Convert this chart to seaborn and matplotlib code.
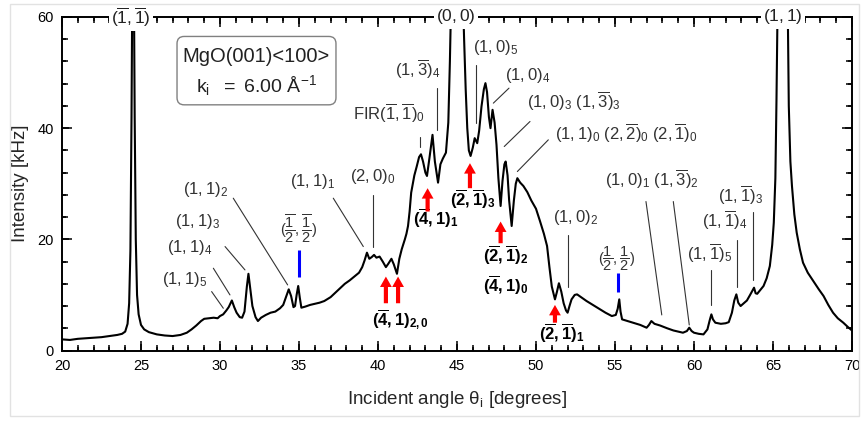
import matplotlib
matplotlib.use("Agg")
import numpy as np
import pandas as pd
import matplotlib.pyplot as plt
import seaborn as sns
from matplotlib.patches import FancyBboxPatch, Rectangle
from matplotlib.ticker import MultipleLocator

# ---------------- data ----------------
theta = [20.0, 20.5, 21.0, 21.5, 22.0, 22.5, 23.0, 23.5, 23.8, 24.0, 24.15, 24.25, 24.33, 24.4, 24.45,
         24.55, 24.6, 24.67, 24.75, 24.85, 25.0, 25.2, 25.5, 26.0, 26.5, 27.0, 27.5, 27.9, 28.2, 28.5,
         28.8, 29.0, 29.3, 29.6, 29.85, 30.0, 30.2, 30.4, 30.55, 30.75, 30.9, 31.05, 31.25, 31.4, 31.55,
         31.7, 31.8, 31.9, 32.05, 32.25, 32.4, 32.6, 32.9, 33.2, 33.5, 33.8, 34.0, 34.2, 34.35, 34.5,
         34.65, 34.75, 34.85, 34.95, 35.05, 35.15, 35.4, 35.7, 36.0, 36.3, 36.6, 37.0, 37.3, 37.6, 37.9,
         38.2, 38.5, 38.8, 39.0, 39.15, 39.3, 39.45, 39.6, 39.75, 39.9, 40.1, 40.3, 40.5, 40.65, 40.85,
         41.0, 41.2, 41.35, 41.5, 41.7, 41.8, 41.9, 42.0, 42.1, 42.3, 42.45, 42.6, 42.72, 42.85, 43.0,
         43.1, 43.25, 43.45, 43.6, 43.8, 43.95, 44.1, 44.3, 44.45, 44.55, 44.65, 45.35, 45.45, 45.55,
         45.65, 45.75, 45.86, 46.0, 46.12, 46.28, 46.4, 46.55, 46.7, 46.8, 46.9, 47.02, 47.12, 47.25,
         47.38, 47.5, 47.62, 47.76, 47.88, 48.0, 48.08, 48.2, 48.3, 48.46, 48.6, 48.72, 48.82, 49.0,
         49.2, 49.45, 49.7, 50.0, 50.25, 50.5, 50.7, 50.85, 51.0, 51.2, 51.32, 51.45, 51.6, 51.75,
         51.9, 52.0, 52.12, 52.25, 52.45, 52.6, 52.9, 53.2, 53.6, 54.05, 54.4, 54.8, 55.05, 55.17,
         55.27, 55.35, 55.45, 55.8, 56.15, 56.6, 57.0, 57.15, 57.3, 57.5, 57.85, 58.3, 58.7, 59.0,
         59.3, 59.55, 59.7, 59.85, 60.0, 60.3, 60.6, 60.85, 61.0, 61.1, 61.2, 61.35, 61.7, 62.0, 62.2,
         62.4, 62.55, 62.68, 62.8, 62.95, 63.15, 63.35, 63.55, 63.7, 63.8, 63.9, 64.0, 64.2, 64.4,
         64.6, 64.8, 64.95, 65.05, 65.15, 65.22, 65.28, 65.35, 65.85, 65.94, 66.0, 66.1, 66.2, 66.35,
         66.5, 66.7, 66.9, 67.2, 67.55, 67.9, 68.2, 68.5, 68.8, 69.1, 69.45, 69.75, 70.0]
intensity = [2.0, 1.9, 2.1, 2.2, 2.3, 2.4, 2.6, 2.8, 3.0, 3.4, 4.8, 8.5, 18.0, 42.0, 66.0,
             66.0, 42.0, 20.0, 10.0, 6.5, 4.6, 3.8, 3.3, 2.9, 2.7, 2.6, 2.8, 3.2, 3.8, 4.5,
             5.3, 5.7, 5.8, 5.9, 5.8, 6.2, 6.5, 7.2, 7.8, 9.0, 7.8, 6.8, 6.0, 5.9, 7.0,
             11.5, 13.8, 11.5, 8.0, 6.0, 5.3, 5.9, 6.4, 6.8, 7.0, 7.6, 8.2, 9.8, 11.0, 9.8,
             7.8, 8.0, 10.0, 11.6, 9.5, 7.7, 7.9, 8.2, 8.4, 8.6, 8.9, 9.6, 10.4, 11.2, 12.0,
             12.6, 13.3, 14.0, 15.0, 16.2, 17.6, 16.5, 16.8, 17.2, 16.7, 16.9, 16.0, 15.0, 15.6, 16.5,
             15.5, 13.8, 16.5, 18.2, 20.0, 21.0, 22.4, 25.0, 28.4, 31.5, 33.1, 34.8, 35.3, 34.0, 32.0,
             31.4, 34.5, 38.8, 34.0, 30.2, 33.5, 34.5, 35.6, 41.0, 52.0, 66.0, 66.0, 56.0, 47.0,
             40.0, 36.0, 35.0, 36.5, 38.2, 37.3, 39.5, 43.9, 47.0, 48.1, 46.5, 42.0, 40.0, 43.3,
             41.0, 37.0, 31.0, 26.0, 30.5, 33.5, 34.0, 31.5, 27.0, 22.4, 27.0, 30.0, 31.0, 30.2,
             29.6, 28.5, 27.0, 25.5, 23.3, 21.0, 18.8, 15.0, 11.5, 9.2, 10.5, 12.1, 10.6, 8.5,
             7.2, 6.8, 8.0, 9.2, 10.0, 10.1, 9.5, 8.9, 8.2, 7.4, 6.8, 6.2, 6.4, 7.5,
             9.2, 7.0, 5.6, 5.3, 5.0, 4.6, 4.1, 4.6, 5.3, 4.8, 4.5, 4.0, 3.6, 3.4,
             3.2, 3.5, 4.1, 3.5, 3.2, 3.0, 2.9, 3.8, 5.5, 6.5, 5.6, 5.0, 4.8, 4.9, 5.1,
             6.8, 9.0, 10.1, 8.6, 8.0, 8.5, 9.0, 10.0, 10.8, 11.3, 10.3, 10.2, 10.9, 11.6,
             13.0, 15.2, 19.0, 23.0, 31.0, 45.0, 60.0, 75.0, 75.0, 60.0, 44.0, 34.0, 29.6, 24.5,
             21.2, 18.2, 15.8, 14.0, 12.5, 11.0, 9.8, 8.2, 6.8, 5.8, 5.0, 4.2, 3.6]

# top-axis specular / diffraction peak labels
top_labels = [r"$\mathregular{(\overline{1},\overline{1})}$", r"$\mathregular{(0,0)}$", r"$\mathregular{(1,1)}$"]
top_label_theta = [24.37, 44.94, 65.63]

# grey labels: text, left theta, baseline intensity
grey_labels = [
    (r"$\mathregular{(1,1)_5}$", 26.33, 11.9),
    (r"$\mathregular{(1,1)_4}$", 26.65, 17.7),
    (r"$\mathregular{(1,1)_3}$", 27.15, 22.4),
    (r"$\mathregular{(1,1)_2}$", 27.66, 28.1),
    (r"$\mathregular{(1,1)_1}$", 34.43, 29.6),
    (r"$\mathregular{(2,0)_0}$", 38.23, 30.5),
    (r"$\mathregular{FIR(\overline{1},\overline{1})_0}$", 38.42, 41.5),
    (r"$\mathregular{(1,\overline{3})_4}$", 41.08, 49.4),
    (r"$\mathregular{(1,0)_5}$", 46.01, 53.7),
    (r"$\mathregular{(1,0)_4}$", 48.04, 48.7),
    (r"$\mathregular{(1,0)_3\ (1,\overline{3})_3}$", 49.43, 43.6),
    (r"$\mathregular{(1,1)_0\ (2,\overline{2})_0\ (2,\overline{1})_0}$", 51.2, 37.8),
    (r"$\mathregular{(1,0)_2}$", 51.08, 23.1),
    (r"$\mathregular{(1,0)_1\ (1,\overline{3})_2}$", 54.37, 29.6),
    (r"$\mathregular{(1,\overline{1})_5}$", 59.56, 16.2),
    (r"$\mathregular{(1,\overline{1})_4}$", 60.51, 22.2),
    (r"$\mathregular{(1,\overline{1})_3}$", 61.52, 26.8),
]

# leader lines: (theta0, I0, theta1, I1)
leaders = [
    (29.47, 10.6, 30.21, 7.6),
    (29.58, 14.8, 30.63, 10.0),
    (30.32, 18.7, 31.58, 14.5),
    (30.84, 27.4, 34.28, 11.8),
    (37.17, 27.4, 39.07, 18.7),
    (39.66, 28.0, 39.66, 18.7),
    (42.66, 38.5, 42.66, 36.7),
    (43.75, 47.2, 43.75, 39.7),
    (46.20, 51.4, 46.20, 40.9),
    (48.29, 47.2, 47.30, 44.5),
    (49.62, 41.2, 47.99, 36.7),
    (50.78, 37.9, 48.82, 32.2),
    (52.00, 20.8, 52.00, 11.5),
    (56.96, 26.8, 57.96, 6.4),
    (58.69, 26.8, 59.70, 4.6),
    (61.06, 14.5, 61.06, 8.2),
    (62.74, 19.9, 62.74, 11.5),
    (63.71, 25.0, 63.71, 12.7),
]

# bold labels for the red-arrow resonances
bold_labels = [
    (r"$\mathregular{(\overline{4},1)_{2,0}}$", 39.62, 4.5),
    (r"$\mathregular{(\overline{4},1)_1}$", 42.22, 22.5),
    (r"$\mathregular{(\overline{2},\overline{1})_3}$", 44.56, 26.0),
    (r"$\mathregular{(\overline{2},\overline{1})_2}$", 46.65, 15.9),
    (r"$\mathregular{(\overline{4},1)_0}$", 46.65, 10.6),
    (r"$\mathregular{(\overline{2},\overline{1})_1}$", 50.19, 1.8),
]
# red arrows: theta, head intensity, tail intensity
arrow_theta = [40.5, 41.27, 43.14, 45.82, 47.76, 51.2]
arrow_head = [13.3, 13.3, 29.2, 33.7, 23.2, 8.2]
arrow_tail = [8.5, 8.5, 25.0, 29.2, 19.3, 5.0]

# blue half-order markers
half_labels = [r"$\mathregular{(\dfrac{\overline{1}}{2},\dfrac{\overline{1}}{2})}$",
               r"$\mathregular{(\dfrac{1}{2},\dfrac{1}{2})}$"]
half_theta = [34.97, 55.18]
half_label_theta = [35.0, 55.13]
half_label_I = [21.9, 16.5]
half_bar_lo = [13.3, 10.6]
half_bar_hi = [18.1, 13.9]

# ---------------- style ----------------
sns.set_theme(style="ticks", rc={
    'xtick.direction': 'in', 'ytick.direction': 'in',
    'xtick.top': True, 'ytick.right': True,
    'xtick.bottom': True, 'ytick.left': True,
    'xtick.major.size': 7, 'ytick.major.size': 7,
    'xtick.minor.size': 4, 'ytick.minor.size': 4,
    'xtick.major.width': 1.1, 'ytick.major.width': 1.1,
    'xtick.minor.width': 1.1, 'ytick.minor.width': 1.1,
    'xtick.color': 'black', 'ytick.color': 'black',
    'axes.edgecolor': 'black',
    'axes.axisbelow': False,
})
plt.rcParams['font.family'] = ['Liberation Sans', 'DejaVu Sans']
plt.rcParams['mathtext.fontset'] = 'custom'
plt.rcParams['mathtext.rm'] = 'Liberation Sans'
plt.rcParams['mathtext.it'] = 'Liberation Sans:italic'
plt.rcParams['mathtext.bf'] = 'Liberation Sans:bold'

W, H = 862, 421
AX_L, AX_R, AX_T, AX_B = 62, 852, 17, 350.5
fig = plt.figure(figsize=(W / 100, H / 100), dpi=100)
fig.patch.set_facecolor('white')
ax = fig.add_axes([AX_L / W, 1 - AX_B / H, (AX_R - AX_L) / W, (AX_B - AX_T) / H])

df = pd.DataFrame({'theta': theta, 'intensity': intensity})
sns.lineplot(data=df, x='theta', y='intensity', ax=ax, color='black', lw=1.5,
             estimator=None, sort=False)

ax.set_xlim(20, 70)
ax.set_ylim(0, 60)
ax.xaxis.set_major_locator(MultipleLocator(5))
ax.xaxis.set_minor_locator(MultipleLocator(1))
ax.yaxis.set_major_locator(MultipleLocator(20))
ax.yaxis.set_minor_locator(MultipleLocator(4))
for s in ax.spines.values():
    s.set_visible(True)
    s.set_color('black')
    s.set_linewidth(1.4)

ax.set_xlabel(r"Incident angle $\mathregular{\theta_i}$ [degrees]", fontsize=13.5, labelpad=12)
ax.set_ylabel("Intensity [kHz]", fontsize=13.5, labelpad=6)

txtc = '#333333'

# inward tick marks on all four sides, placed at the axis locators' positions
xmaj = [v for v in ax.xaxis.get_majorticklocs() if 20 <= v <= 70]
xmin = [v for v in ax.xaxis.get_minorticklocs() if 20 <= v <= 70 and v not in xmaj]
ymaj = [v for v in ax.yaxis.get_majorticklocs() if 0 <= v <= 60]
ymin = [v for v in ax.yaxis.get_minorticklocs() if 0 <= v <= 60 and v not in ymaj]
hx_maj, hx_min = 7 / (AX_B - AX_T), 4 / (AX_B - AX_T)
wy_maj, wy_min = 7 / (AX_R - AX_L), 4 / (AX_R - AX_L)
xt = ax.get_xaxis_transform()
yt = ax.get_yaxis_transform()
for locs, h in ((xmaj, hx_maj), (xmin, hx_min)):
    ax.vlines(locs, 0, h, transform=xt, color='black', lw=1.1, clip_on=False, zorder=3)
    ax.vlines(locs, 1 - h, 1, transform=xt, color='black', lw=1.1, clip_on=False, zorder=3)
for locs, w in ((ymaj, wy_maj), (ymin, wy_min)):
    ax.hlines(locs, 0, w, transform=yt, color='black', lw=1.1, clip_on=False, zorder=3)
    ax.hlines(locs, 1 - w, 1, transform=yt, color='black', lw=1.1, clip_on=False, zorder=3)

for lab, th in zip(top_labels, top_label_theta):
    ax.text(th, 60, lab, ha='center', va='center', fontsize=12.5, color='#222222',
            bbox=dict(fc='white', ec='none', pad=1.5), clip_on=False, zorder=5)

for lab, th, yy in grey_labels:
    ax.text(th, yy, lab, ha='left', va='baseline', fontsize=12, color=txtc)

for x0, y0, x1, y1 in leaders:
    ax.plot([x0, x1], [y0, y1], color=txtc, lw=0.8)

for lab, th, yy in bold_labels:
    ax.text(th, yy, lab, ha='left', va='baseline', fontsize=12, color='black', fontweight='bold')

for th, hd, tl in zip(arrow_theta, arrow_head, arrow_tail):
    ax.annotate('', xy=(th, hd), xytext=(th, tl),
                arrowprops=dict(arrowstyle='simple,head_width=0.85,head_length=0.75,tail_width=0.3',
                                fc='red', ec='none', shrinkA=0, shrinkB=0, mutation_scale=10))

for lab, th, lth, ly, lo, hi in zip(half_labels, half_theta, half_label_theta, half_label_I,
                                    half_bar_lo, half_bar_hi):
    ax.plot([th, th], [lo, hi], color='#0000ff', lw=2.2, solid_capstyle='butt')
    ax.text(lth, ly, lab, ha='center', va='center', fontsize=10.5, color=txtc)

# info box
box = FancyBboxPatch((27.28, 44.2), 10.06, 12.3,
                     boxstyle='round,pad=0,rounding_size=0.45', mutation_aspect=2.85,
                     fc='white', ec='#808080', lw=1.0, zorder=4)
ax.add_patch(box)
ax.text(32.31, 52.9, "MgO(001)<100>", ha='center', va='center', fontsize=14.5, color='#222222', zorder=5)
ax.text(32.31, 47.6, r"$\mathregular{k_i\ \ =\ 6.00\ Å^{-1}}$", ha='center', va='center',
        fontsize=14, color='#222222', zorder=5)

ax.set_xlim(20, 70)
ax.set_ylim(0, 60)
ax.tick_params(which='both', direction='in', top=True, right=True, bottom=True, left=True,
               color='black', width=1.1)
ax.tick_params(which='major', length=7, labelsize=10.5, pad=6)
ax.tick_params(which='minor', length=4)

fig.patches.append(Rectangle((10 / W, 1 - 416 / H), (859 - 10) / W, (416 - 4) / H,
                             transform=fig.transFigure, fill=False, ec='#e2e2e2', lw=1.0))

fig.savefig('out.png', dpi=100, facecolor='white')
